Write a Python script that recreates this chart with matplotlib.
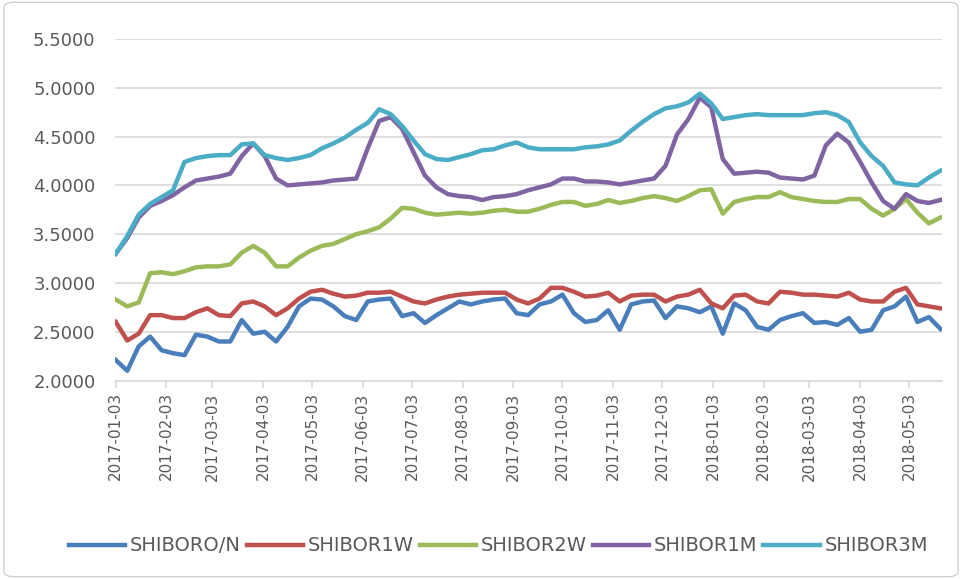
import matplotlib
matplotlib.use("Agg")
import matplotlib.pyplot as plt
import matplotlib.dates as mdates
from matplotlib.patches import FancyBboxPatch
import pandas as pd

# weekly sampling of the daily SHIBOR series
dates = pd.date_range("2017-01-03", periods=73, freq="7D")

on_vals = [2.21, 2.10, 2.35, 2.45, 2.31, 2.28, 2.26, 2.47, 2.45, 2.40, 2.40, 2.62,
           2.48, 2.50, 2.40, 2.55, 2.76, 2.84, 2.83, 2.76, 2.66, 2.62, 2.81, 2.83,
           2.84, 2.66, 2.69, 2.59, 2.67, 2.74, 2.81, 2.78, 2.81, 2.83, 2.84, 2.69,
           2.67, 2.78, 2.81, 2.88, 2.69, 2.60, 2.62, 2.72, 2.52, 2.78, 2.81, 2.82,
           2.64, 2.76, 2.74, 2.70, 2.76, 2.48, 2.79, 2.72, 2.55, 2.52, 2.62, 2.66,
           2.69, 2.59, 2.60, 2.57, 2.64, 2.50, 2.52, 2.72, 2.76, 2.86, 2.60, 2.65,
           2.53]
w1_vals = [2.60, 2.41, 2.48, 2.67, 2.67, 2.64, 2.64, 2.70, 2.74, 2.67, 2.66, 2.79,
           2.81, 2.76, 2.67, 2.74, 2.84, 2.91, 2.93, 2.89, 2.86, 2.87, 2.90, 2.90,
           2.91, 2.86, 2.81, 2.79, 2.83, 2.86, 2.88, 2.89, 2.90, 2.90, 2.90, 2.83,
           2.79, 2.84, 2.95, 2.95, 2.91, 2.86, 2.87, 2.90, 2.81, 2.87, 2.88, 2.88,
           2.81, 2.86, 2.88, 2.93, 2.79, 2.74, 2.87, 2.88, 2.81, 2.79, 2.91, 2.90,
           2.88, 2.88, 2.87, 2.86, 2.90, 2.83, 2.81, 2.81, 2.91, 2.95, 2.78, 2.76,
           2.74]
w2_vals = [2.83, 2.76, 2.80, 3.10, 3.11, 3.09, 3.12, 3.16, 3.17, 3.17, 3.19, 3.31,
           3.38, 3.31, 3.17, 3.17, 3.26, 3.33, 3.38, 3.40, 3.45, 3.50, 3.53, 3.57,
           3.66, 3.77, 3.76, 3.72, 3.70, 3.71, 3.72, 3.71, 3.72, 3.74, 3.75, 3.73,
           3.73, 3.76, 3.80, 3.83, 3.83, 3.79, 3.81, 3.85, 3.82, 3.84, 3.87, 3.89,
           3.87, 3.84, 3.89, 3.95, 3.96, 3.71, 3.83, 3.86, 3.88, 3.88, 3.93, 3.88,
           3.86, 3.84, 3.83, 3.83, 3.86, 3.86, 3.76, 3.69, 3.76, 3.86, 3.72, 3.61,
           3.67]
m1_vals = [3.30, 3.46, 3.67, 3.79, 3.84, 3.90, 3.98, 4.05, 4.07, 4.09, 4.12, 4.30,
           4.43, 4.30, 4.07, 4.00, 4.01, 4.02, 4.03, 4.05, 4.06, 4.07, 4.38, 4.66,
           4.70, 4.58, 4.34, 4.10, 3.98, 3.91, 3.89, 3.88, 3.85, 3.88, 3.89, 3.91,
           3.95, 3.98, 4.01, 4.07, 4.07, 4.04, 4.04, 4.03, 4.01, 4.03, 4.05, 4.07,
           4.20, 4.52, 4.68, 4.90, 4.80, 4.27, 4.12, 4.13, 4.14, 4.13, 4.08, 4.07,
           4.06, 4.10, 4.41, 4.53, 4.44, 4.24, 4.03, 3.84, 3.76, 3.91, 3.84, 3.82,
           3.85]
m3_vals = [3.30, 3.48, 3.70, 3.81, 3.88, 3.95, 4.24, 4.28, 4.30, 4.31, 4.31, 4.42,
           4.43, 4.31, 4.28, 4.26, 4.28, 4.31, 4.38, 4.43, 4.49, 4.57, 4.64, 4.78,
           4.73, 4.61, 4.46, 4.32, 4.27, 4.26, 4.29, 4.32, 4.36, 4.37, 4.41, 4.44,
           4.39, 4.37, 4.37, 4.37, 4.37, 4.39, 4.40, 4.42, 4.46, 4.56, 4.65, 4.73,
           4.79, 4.81, 4.85, 4.94, 4.84, 4.68, 4.70, 4.72, 4.73, 4.72, 4.72, 4.72,
           4.72, 4.74, 4.75, 4.72, 4.65, 4.44, 4.30, 4.20, 4.03, 4.01, 4.00, 4.08,
           4.15]

labels = ["SHIBORO/N", "SHIBOR1W", "SHIBOR2W", "SHIBOR1M", "SHIBOR3M"]
colors = ["#4A7EBB", "#C0504D", "#9BBB59", "#8064A2", "#4BACC6"]

fig = plt.figure(figsize=(9.62, 5.79), dpi=100)
ax = fig.add_axes([0.1195, 0.3428, 0.8597, 0.5898])

for vals, lab, col in zip([on_vals, w1_vals, w2_vals, m1_vals, m3_vals], labels, colors):
    ax.plot(dates, vals, color=col, linewidth=3.2, label=lab, solid_joinstyle="round")

ax.set_ylim(2.0, 5.5)
ax.set_yticks([2.0, 2.5, 3.0, 3.5, 4.0, 4.5, 5.0, 5.5])
ax.yaxis.set_major_formatter(matplotlib.ticker.FormatStrFormatter("%.4f"))
ax.set_xlim(pd.Timestamp("2017-01-02 12:00"), pd.Timestamp("2018-05-23"))
ax.xaxis.set_major_locator(mdates.MonthLocator(bymonthday=3))
ax.xaxis.set_major_formatter(mdates.DateFormatter("%Y-%m-%d"))

ax.grid(axis="y", color="#D9D9D9", linewidth=1.2)
ax.set_axisbelow(True)
for s in ["top", "right", "left"]:
    ax.spines[s].set_visible(False)
ax.spines["bottom"].set_color("#D9D9D9")
ax.spines["bottom"].set_linewidth(1.2)
ax.tick_params(axis="y", length=0, labelsize=13, labelcolor="#595959", pad=14)
ax.tick_params(axis="x", length=5, color="#D9D9D9", width=1.2,
               labelsize=11, labelcolor="#595959", labelrotation=90)

fig.legend(loc="center", bbox_to_anchor=(0.518, 0.057), ncol=5, frameon=False,
           fontsize=14, handlelength=2.9, handletextpad=0.25, columnspacing=0.3,
           labelcolor="#595959")

border = FancyBboxPatch((0.004, 0.004), 0.992, 0.992, boxstyle="round,pad=0,rounding_size=0.01",
                        transform=fig.transFigure, fill=False, edgecolor="#D0D0D0", linewidth=1)
fig.patches.append(border)

fig.savefig("out.png", dpi=100)
